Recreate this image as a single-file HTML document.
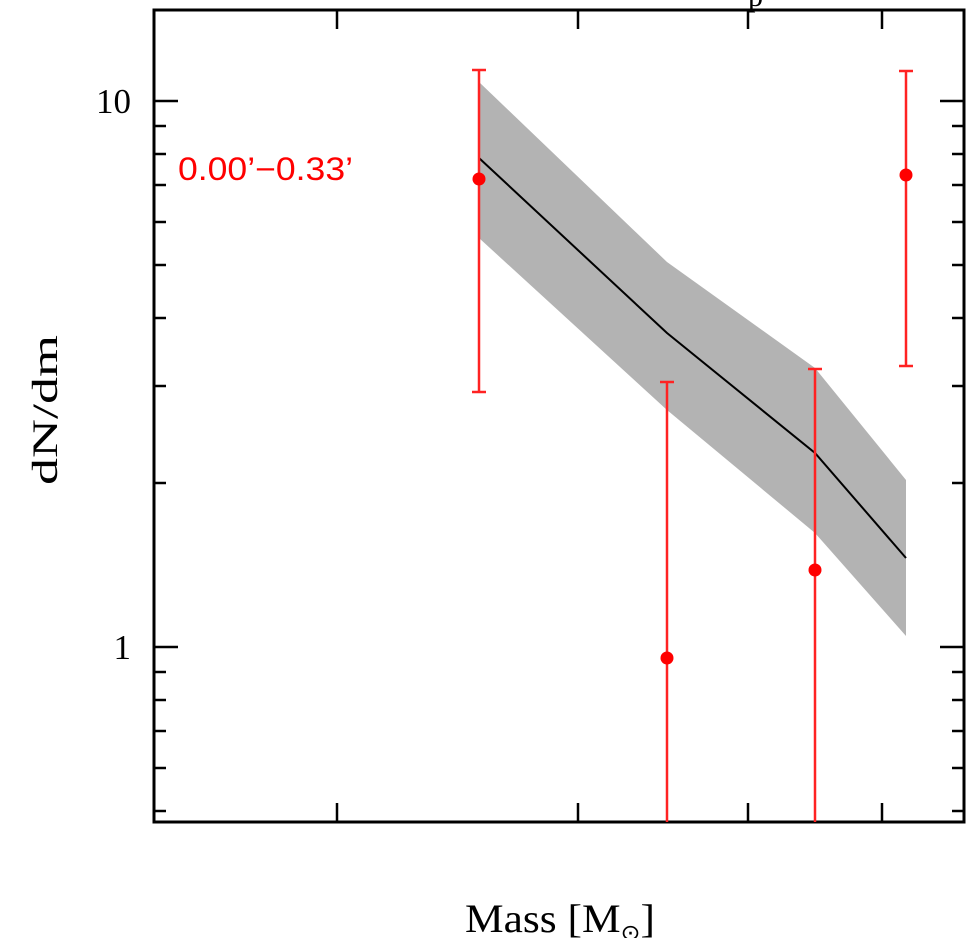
<!DOCTYPE html>
<html><head><meta charset="utf-8"><style>body{margin:0;background:#fff}svg{display:block}</style></head><body>
<svg width="978" height="938" viewBox="0 0 978 938" xmlns="http://www.w3.org/2000/svg">
<rect width="978" height="938" fill="#fff"/>
<polygon points="479,82 667,262 815,368 906,480 906,636 815,533 667,410 479,238" fill="#b3b3b3"/>
<polyline points="479,158 667,333 815,453 906,558" fill="none" stroke="#000" stroke-width="2"/>
<g stroke="#000" stroke-width="2.5">
<rect x="154" y="10" width="810" height="812" fill="none" stroke-width="3"/>
<line x1="337" y1="10" x2="337" y2="29"/><line x1="578" y1="10" x2="578" y2="29"/><line x1="748" y1="10" x2="748" y2="29"/><line x1="882" y1="10" x2="882" y2="29"/>
<line x1="337" y1="822" x2="337" y2="803"/><line x1="578" y1="822" x2="578" y2="803"/><line x1="748" y1="822" x2="748" y2="803"/><line x1="882" y1="822" x2="882" y2="803"/>
<line x1="154" y1="101" x2="178" y2="101"/><line x1="964" y1="101" x2="940" y2="101"/>
<line x1="154" y1="647" x2="178" y2="647"/><line x1="964" y1="647" x2="940" y2="647"/>
<line x1="154" y1="483" x2="166" y2="483"/><line x1="964" y1="483" x2="952" y2="483"/>
<line x1="154" y1="386" x2="166" y2="386"/><line x1="964" y1="386" x2="952" y2="386"/>
<line x1="154" y1="318" x2="166" y2="318"/><line x1="964" y1="318" x2="952" y2="318"/>
<line x1="154" y1="265" x2="166" y2="265"/><line x1="964" y1="265" x2="952" y2="265"/>
<line x1="154" y1="222" x2="166" y2="222"/><line x1="964" y1="222" x2="952" y2="222"/>
<line x1="154" y1="185" x2="166" y2="185"/><line x1="964" y1="185" x2="952" y2="185"/>
<line x1="154" y1="154" x2="166" y2="154"/><line x1="964" y1="154" x2="952" y2="154"/>
<line x1="154" y1="126" x2="166" y2="126"/><line x1="964" y1="126" x2="952" y2="126"/>
<line x1="154" y1="811" x2="166" y2="811"/><line x1="964" y1="811" x2="952" y2="811"/>
<line x1="154" y1="768" x2="166" y2="768"/><line x1="964" y1="768" x2="952" y2="768"/>
<line x1="154" y1="731" x2="166" y2="731"/><line x1="964" y1="731" x2="952" y2="731"/>
<line x1="154" y1="700" x2="166" y2="700"/><line x1="964" y1="700" x2="952" y2="700"/>
<line x1="154" y1="672" x2="166" y2="672"/><line x1="964" y1="672" x2="952" y2="672"/>
</g>
<g stroke="#f22" stroke-width="2.5" fill="#f00">
<line x1="479" y1="70" x2="479" y2="392"/><line x1="472" y1="70" x2="486" y2="70"/><line x1="472" y1="392" x2="486" y2="392"/>
<line x1="667" y1="382" x2="667" y2="822"/><line x1="660" y1="382" x2="674" y2="382"/>
<line x1="815" y1="369" x2="815" y2="822"/><line x1="808" y1="369" x2="822" y2="369"/>
<line x1="906" y1="71" x2="906" y2="366"/><line x1="899" y1="71" x2="913" y2="71"/><line x1="899" y1="366" x2="913" y2="366"/>
<circle cx="479" cy="179" r="6.5" stroke="none"/><circle cx="667" cy="658" r="6.5" stroke="none"/><circle cx="815" cy="570" r="6.5" stroke="none"/><circle cx="906" cy="175" r="6.5" stroke="none"/>
</g>
<text x="178" y="180" font-family="Liberation Sans, sans-serif" font-size="32" fill="#f00" textLength="175" lengthAdjust="spacingAndGlyphs">0.00’−0.33’</text>
<text x="131" y="113" font-family="Liberation Serif, serif" font-size="35" text-anchor="end">10</text>
<text x="131" y="659" font-family="Liberation Serif, serif" font-size="35" text-anchor="end">1</text>
<text transform="translate(57,485) rotate(-90)" font-family="Liberation Serif, serif" font-size="36" textLength="150" lengthAdjust="spacingAndGlyphs">dN/dm</text>
<text x="465" y="932" font-family="Liberation Serif, serif" font-size="40" textLength="190" lengthAdjust="spacingAndGlyphs">Mass [M<tspan font-size="22" dy="8">⊙</tspan><tspan dy="-8">]</tspan></text>
<text x="748" y="6" font-family="Liberation Serif, serif" font-size="30">p</text>
</svg>
</body></html>
